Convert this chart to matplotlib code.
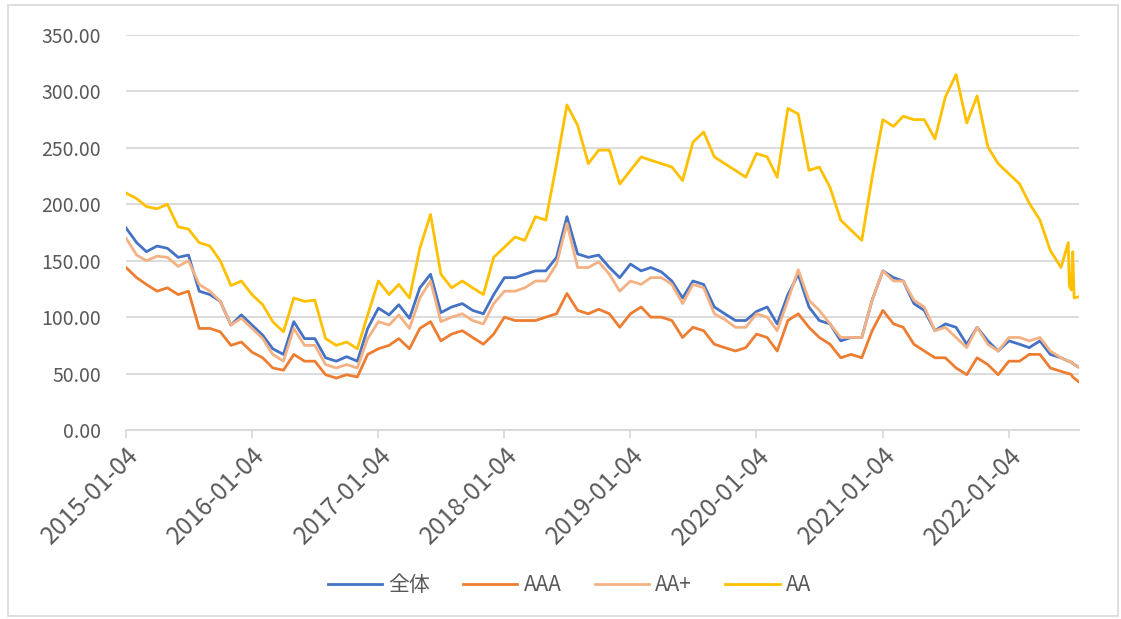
"""
Credit spread lines by rating (全体 / AAA / AA+ / AA), 2015-2022.
"""

import numpy as np
import pandas as pd
import matplotlib
matplotlib.use("Agg")
import matplotlib.pyplot as plt
import matplotlib.dates as mdates
from matplotlib.patches import Rectangle

plt.rcParams['font.family'] = ['Noto Sans CJK JP', 'DejaVu Sans']

# monthly points (4th of each month) plus a few extra days at the end
month_days = pd.date_range("2015-01-01", "2022-06-01", freq="MS") + pd.Timedelta(days=3)
extra_days = pd.to_datetime(["2022-06-25", "2022-06-28", "2022-07-04",
                             "2022-07-08", "2022-07-12", "2022-07-24"])
dates = month_days.append(extra_days)

all_ = [179, 166, 158, 163, 161, 153, 155, 123, 120, 114, 93, 102,
        93, 84, 72, 67, 96, 81, 81, 64, 61, 65, 61, 90,
        108, 102, 111, 99, 126, 138, 104, 109, 112, 106, 103, 120,
        135, 135, 138, 141, 141, 153, 189, 156, 153, 155, 144, 135,
        147, 141, 144, 140, 132, 117, 132, 129, 109, 103, 97, 97,
        105, 109, 94, 120, 138, 109, 97, 94, 79, 82, 82, 115,
        141, 135, 132, 112, 106, 88, 94, 91, 76, 91, 79, 70,
        79, 76, 73, 79, 67, 64,
        61, 61, 60, 59, 58, 56]

aaa = [144, 135, 129, 123, 126, 120, 123, 90, 90, 87, 75, 78,
       69, 64, 55, 53, 67, 61, 61, 49, 46, 49, 47, 67,
       72, 75, 81, 72, 90, 96, 79, 85, 88, 82, 76, 85,
       100, 97, 97, 97, 100, 103, 121, 106, 103, 107, 103, 91,
       103, 109, 100, 100, 97, 82, 91, 88, 76, 73, 70, 73,
       85, 82, 70, 97, 103, 91, 82, 76, 64, 67, 64, 88,
       106, 94, 91, 76, 70, 64, 64, 55, 49, 64, 58, 49,
       61, 61, 67, 67, 55, 52,
       50, 50, 49, 47, 46, 43]

aa_plus = [170, 155, 150, 154, 153, 145, 150, 129, 123, 114, 93, 99,
           90, 81, 67, 61, 90, 75, 75, 58, 55, 58, 55, 81,
           96, 93, 102, 90, 117, 132, 96, 100, 103, 97, 94, 112,
           123, 123, 126, 132, 132, 147, 183, 144, 144, 149, 138, 123,
           132, 129, 135, 135, 129, 112, 129, 126, 103, 98, 91, 91,
           103, 100, 88, 115, 142, 115, 106, 94, 82, 82, 82, 115,
           141, 132, 132, 115, 109, 88, 91, 82, 73, 91, 76, 70,
           82, 82, 79, 82, 70, 64,
           61, 61, 60, 59, 58, 56]

aa = [210, 205, 198, 196, 200, 180, 178, 166, 163, 150, 128, 132,
      120, 111, 96, 87, 117, 114, 115, 81, 75, 78, 72, 102,
      132, 120, 129, 117, 161, 191, 138, 126, 132, 126, 120, 153,
      162, 171, 168, 189, 186, 236, 288, 270, 236, 248, 248, 218,
      230, 242, 239, 236, 233, 221, 255, 264, 242, 236, 230, 224,
      245, 242, 224, 285, 280, 230, 233, 215, 186, 177, 168, 224,
      275, 269, 278, 275, 275, 258, 295, 315, 272, 296, 251, 236,
      227, 218, 201, 186, 159, 144,
      166, 128, 124, 158, 117, 118]

names = ["全体", "AAA", "AA+", "AA"]
colors = ["#4472C4", "#ED7D31", "#F4B183", "#FFC000"]
year_ticks = pd.date_range("2015-01-04", periods=8, freq=pd.DateOffset(years=1))

fig = plt.figure(figsize=(11.21, 6.19), dpi=100)
ax = fig.add_axes([0.1124, 0.3053, 0.8501, 0.6382])

for series, name, c in zip([all_, aaa, aa_plus, aa], names, colors):
    ax.plot(dates, series, color=c, lw=2.0, label=name)

ax.set_ylim(0, 350)
ax.set_yticks(np.arange(0, 351, 50))
ax.yaxis.set_major_formatter(matplotlib.ticker.FormatStrFormatter("%.2f"))
ax.set_xlim(pd.Timestamp("2015-01-04"), pd.Timestamp("2022-07-26"))
ax.set_xticks(year_ticks)
ax.xaxis.set_major_formatter(mdates.DateFormatter("%Y-%m-%d"))
plt.setp(ax.get_xticklabels(), rotation=45, ha="right", rotation_mode="anchor")

ax.grid(axis="y", color="#d9d9d9", lw=1.3)
ax.set_axisbelow(True)
for s in ["top", "right", "left"]:
    ax.spines[s].set_visible(False)
ax.spines["bottom"].set_color("#d9d9d9")
ax.spines["bottom"].set_linewidth(1.3)
ax.tick_params(axis="y", length=0, labelsize=14, labelcolor="#595959", pad=18)
ax.tick_params(axis="x", length=6, color="#d9d9d9", width=1.3, pad=3,
               labelsize=17.5, labelcolor="#595959")

fig.legend(loc="center", bbox_to_anchor=(0.508, 0.055), ncol=4, frameon=False,
           fontsize=15, handlelength=2.6, handletextpad=0.3, columnspacing=1.6,
           labelcolor="#595959")

fig.add_artist(Rectangle((0.007, 0.005), 0.99, 0.987, transform=fig.transFigure,
                         fill=False, edgecolor="#d9d9d9", lw=1.2))

fig.savefig("out.png", dpi=100)
